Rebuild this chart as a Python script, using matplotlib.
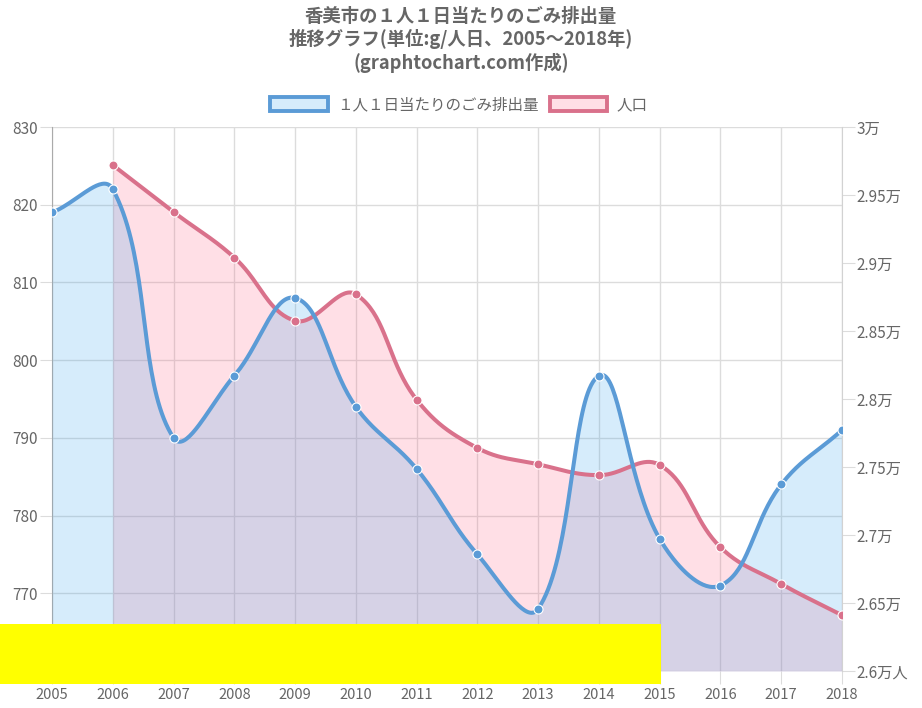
import numpy as np
import matplotlib
matplotlib.use("Agg")
import matplotlib.pyplot as plt
from matplotlib.patches import Patch, Rectangle
from matplotlib.ticker import FuncFormatter, MultipleLocator

plt.rcParams['font.family'] = ['Noto Sans CJK JP', 'DejaVu Sans']

# data
years = [2005, 2006, 2007, 2008, 2009, 2010, 2011, 2012, 2013, 2014, 2015, 2016, 2017, 2018]
waste = [819, 822, 790, 798, 808, 794, 786, 775, 768, 798, 777, 771, 784, 791]
pop_years = [2006, 2007, 2008, 2009, 2010, 2011, 2012, 2013, 2014, 2015, 2016, 2017, 2018]
population = [29720, 29375, 29040, 28575, 28770, 27995, 27640, 27520, 27440, 27515, 26910, 26640, 26410]

title = "香美市の１人１日当たりのごみ排出量\n推移グラフ(単位:g/人日、2005〜2018年)\n(graphtochart.com作成)"
label_waste = "１人１日当たりのごみ排出量"
label_pop = "人口"

blue = "#5b9bd6"
red = "#d9718b"
blue_fill = (54/255, 162/255, 235/255, 0.2)
red_fill = (255/255, 99/255, 132/255, 0.2)
grid_c = "#dcdcdc"
text_c = "#666666"

W, H = 922, 708
fig = plt.figure(figsize=(W/100, H/100), dpi=100)
ax = fig.add_axes([52/W, (H-671)/H, 790/W, 544/H])
ax2 = ax.twinx()

ax.set_xlim(2005, 2018)
ax.set_ylim(760, 830)
ax2.set_ylim(26000, 30000)

ax.xaxis.set_major_locator(MultipleLocator(1))
ax.yaxis.set_major_locator(MultipleLocator(10))
ax2.yaxis.set_major_locator(MultipleLocator(500))

def man_fmt(v, pos):
    s = f"{v/10000:g}万"
    if abs(v - 26000) < 1:
        s += "人"
    return s

ax2.yaxis.set_major_formatter(FuncFormatter(man_fmt))
ax.xaxis.set_major_formatter(FuncFormatter(lambda v, p: f"{int(v)}"))

ax.grid(True, color=grid_c, linewidth=1)
ax.set_axisbelow(True)
for a in (ax, ax2):
    for s in a.spines.values():
        s.set_visible(False)
ax.spines['left'].set_visible(True)
ax.spines['left'].set_color("#aaaaaa")
ax2.spines['right'].set_visible(True)
ax2.spines['right'].set_color("#d2d2d2")

ax.tick_params(axis='y', length=9, color=grid_c, labelcolor=text_c, labelsize=11, pad=1.5)
ax.tick_params(axis='x', length=9, color=grid_c, labelcolor=text_c, labelsize=10.5, pad=3.5)
ax2.tick_params(axis='y', length=9, color=grid_c, labelcolor=text_c, labelsize=11, pad=1.5)


def chart_spline(xs, ys, axis, tension=0.4, nseg=40):
    # Chart.js style bezier through the points, computed in pixel space
    pts = axis.transData.transform(np.column_stack([xs, ys]))
    n = len(pts)
    bb = axis.bbox
    cprev = np.zeros_like(pts)
    cnext = np.zeros_like(pts)
    for i in range(n):
        p0 = pts[max(i - 1, 0)]
        p1 = pts[i]
        p2 = pts[min(i + 1, n - 1)]
        d01 = np.hypot(*(p1 - p0))
        d12 = np.hypot(*(p2 - p1))
        tot = d01 + d12
        s01 = d01 / tot if tot else 0
        s12 = d12 / tot if tot else 0
        cprev[i] = p1 - tension * s01 * (p2 - p0)
        cnext[i] = p1 + tension * s12 * (p2 - p0)
    for c in (cprev, cnext):
        c[:, 0] = np.clip(c[:, 0], bb.x0, bb.x1)
        c[:, 1] = np.clip(c[:, 1], bb.y0, bb.y1)
    t = np.linspace(0, 1, nseg)[:, None]
    out = []
    for i in range(n - 1):
        a, b, c, d = pts[i], cnext[i], cprev[i + 1], pts[i + 1]
        seg = (1-t)**3*a + 3*(1-t)**2*t*b + 3*(1-t)*t**2*c + t**3*d
        out.append(seg if i == 0 else seg[1:])
    out = np.vstack(out)
    data = axis.transData.inverted().transform(out)
    return data[:, 0], data[:, 1]


bx, by = chart_spline(years, waste, ax)
rx, ry = chart_spline(pop_years, population, ax2)

# everything drawn on the top axes so the stacking matches
ax2.fill_between(rx, ry, 26000, color=red_fill, linewidth=0, zorder=1, transform=ax2.transData)
ax2.fill_between(bx, by, 760, color=blue_fill, linewidth=0, zorder=2, transform=ax.transData)
ax2.plot(rx, ry, color=red, lw=2.9, zorder=3, transform=ax2.transData, solid_capstyle='round')
ax2.plot(pop_years, population, 'o', color=red, ms=6.5, mec='white', mew=0.8, zorder=3.5,
         transform=ax2.transData)
ax2.plot(bx, by, color=blue, lw=2.9, zorder=4, transform=ax.transData, solid_capstyle='round')
ax2.plot(years, waste, 'o', color=blue, ms=6.5, mec='white', mew=0.8, zorder=4.5,
         transform=ax.transData)
ax2.set_ylim(26000, 30000)
ax2.set_xlim(2005, 2018)

fig.text(461/W, 1 - 40/H, title, ha='center', va='center', fontsize=13.2,
         fontweight='bold', color=text_c, linespacing=1.2)

handles = [Patch(facecolor=blue_fill, edgecolor=blue, linewidth=2.8, label=label_waste),
           Patch(facecolor=red_fill, edgecolor=red, linewidth=2.8, label=label_pop)]
leg = fig.legend(handles=handles, loc='center', bbox_to_anchor=(459/W, 1 - 105/H), ncol=2,
                 frameon=False, fontsize=11.2, handlelength=3.7, handleheight=1.05,
                 handletextpad=0.6, columnspacing=0.7)
for t in leg.get_texts():
    t.set_color(text_c)

# yellow block covering the lower left, as in the reference
fig.add_artist(Rectangle((0, 1 - 684/H), 661/W, 60/H, transform=fig.transFigure,
                         facecolor="#ffff00", edgecolor='none', zorder=10))

fig.savefig("out.png", dpi=100)
